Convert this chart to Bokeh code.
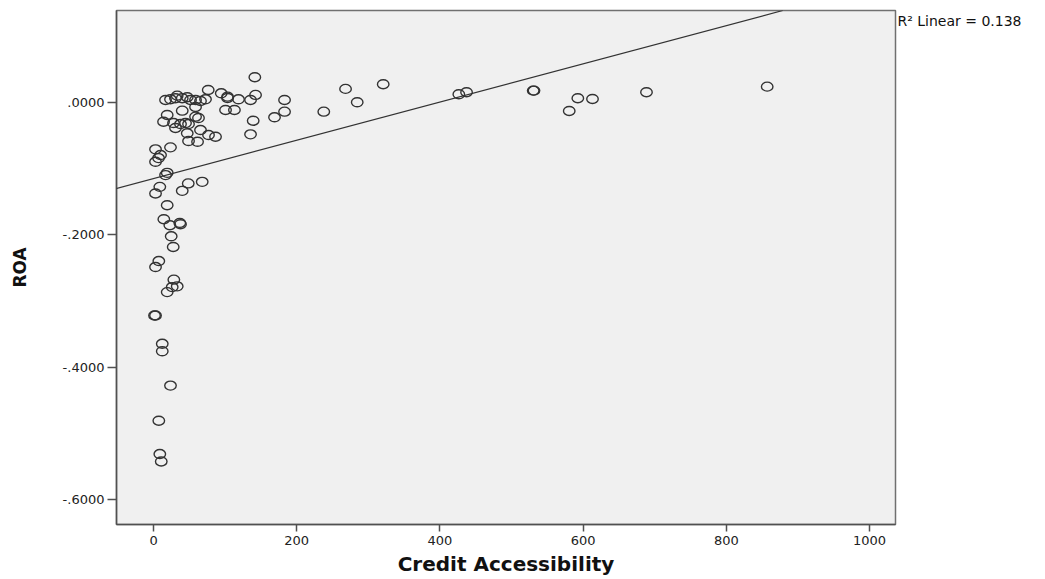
from bokeh.plotting import figure
from bokeh.models import Range1d, FixedTicker, CustomJSTickFormatter, Slope, LinearAxis
from bokeh.embed import file_html
from bokeh.resources import INLINE

# Credit Accessibility (x) and ROA (y)
credit = [141.5, 76.4, 94.6, 103.4, 118.7, 135.5, 142.5, 183.0, 183.0, 169.0,
          139.2, 135.5, 100.6, 113.0, 103.4, 16.8, 23.7, 30.7, 33.1, 40.1,
          47.1, 51.7, 58.7, 65.6, 72.6, 40.1, 58.7, 19.1, 14.0, 27.9,
          37.7, 44.7, 48.9, 58.7, 62.8, 30.7, 65.6, 47.1, 76.8, 86.6,
          48.9, 61.5, 2.8, 23.7, 9.8, 7.0, 2.8, 19.1, 16.8, 68.0,
          48.5, 40.1, 8.8, 2.8, 19.1, 14.4, 22.8, 36.7, 37.7, 24.7,
          27.5, 7.4, 2.8, 28.4, 33.1, 26.1, 19.1, 2.8, 1.4, 12.2,
          12.2, 23.7, 7.4, 8.8, 10.8, 268.2, 320.8, 284.5, 237.8, 426.4,
          437.2, 530.3, 531.4, 592.6, 613.1, 580.6, 688.5, 857.1]
roa = [0.0382, 0.0189, 0.0139, 0.0088, 0.0048, 0.0038, 0.0114, 0.0038, -0.0139, -0.0224,
       -0.0276, -0.0482, -0.0114, -0.0114, 0.0068, 0.0038, 0.0048, 0.0064, 0.0103, 0.0064,
       0.0079, 0.0038, 0.0038, 0.0023, 0.0048, -0.0124, -0.0068, -0.0189, -0.0291, -0.0311,
       -0.0326, -0.0311, -0.0326, -0.0215, -0.0235, -0.0386, -0.0417, -0.0467, -0.0492, -0.0518,
       -0.0583, -0.0594, -0.0709, -0.0679, -0.0795, -0.0841, -0.0897, -0.1064, -0.1098, -0.1200,
       -0.1224, -0.1336, -0.1276, -0.1376, -0.1553, -0.1765, -0.1856, -0.1821, -0.1841, -0.2023,
       -0.2185, -0.2397, -0.2488, -0.2679, -0.2780, -0.2791, -0.2867, -0.3220, -0.3220, -0.3648,
       -0.3761, -0.4280, -0.4811, -0.5315, -0.5427, 0.0205, 0.0276, 0.0003, -0.0139, 0.0124,
       0.0155, 0.0179, 0.0179, 0.0064, 0.0053, -0.0129, 0.0155, 0.0239]

# Linear fit line as drawn in the reference
fit_intercept = -0.115
fit_slope = 0.000289
r2_text = "R\u00b2 Linear = 0.138"
note_y = 0.123  # height (in ROA units) at which the R^2 note sits, right of the frame

x_ticks = [0, 200, 400, 600, 800, 1000]
y_ticks = [0.0, -0.2, -0.4, -0.6]

x_lo, x_hi = -51.7, 1036.3
y_lo, y_hi = -0.638, 0.139

p = figure(width=1045, height=579, output_backend="svg", toolbar_location=None,
           x_range=Range1d(x_lo, x_hi), y_range=Range1d(y_lo, y_hi),
           min_border_left=116, min_border_right=150, min_border_top=10, min_border_bottom=55)

p.background_fill_color = "#f0f0f0"
p.border_fill_color = "white"
p.outline_line_color = "#707070"
p.outline_line_width = 1.5
p.xgrid.visible = False
p.ygrid.visible = False

p.ellipse(x=credit, y=roa, width=11.5, height=9, width_units="screen", height_units="screen",
          fill_color=None, line_color="#333333", line_width=1.4)

p.add_layout(Slope(gradient=fit_slope, y_intercept=fit_intercept,
                   line_color="#333333", line_width=1.2))

# R^2 note: a bare right-hand axis with a single labelled tick
note_axis = LinearAxis(ticker=FixedTicker(ticks=[note_y]),
                       formatter=CustomJSTickFormatter(args=dict(label=r2_text), code="return label;"),
                       axis_line_color=None, major_tick_line_color=None, minor_tick_line_color=None,
                       major_tick_in=0, major_tick_out=0, major_label_standoff=2,
                       major_label_text_font="DejaVu Sans", major_label_text_font_size="14px",
                       major_label_text_color="#111111")
p.add_layout(note_axis, "right")

for ax in (p.xaxis[0], p.yaxis[0]):
    ax.axis_line_color = "#505050"
    ax.axis_line_width = 1.5
    ax.major_tick_line_color = "#505050"
    ax.major_tick_line_width = 1.5
    ax.major_tick_in = 0
    ax.minor_tick_line_color = None
    ax.major_label_text_font = "DejaVu Sans"
    ax.major_label_text_font_size = "13px"
    ax.major_label_text_color = "#222222"
    ax.axis_label_text_font = "DejaVu Sans"
    ax.axis_label_text_font_style = "bold"
    ax.axis_label_text_color = "#111111"

p.xaxis.ticker = FixedTicker(ticks=x_ticks)
p.xaxis.major_tick_out = 7
p.xaxis.major_label_standoff = 4
p.xaxis.axis_label = "Credit Accessibility"
p.xaxis.axis_label_text_font_size = "20px"
p.xaxis.axis_label_standoff = 4

y_axis = p.yaxis[0]
y_axis.ticker = FixedTicker(ticks=y_ticks)
y_axis.formatter = CustomJSTickFormatter(code="""
    if (Math.abs(tick) < 1e-9) return '.0000';
    const s = Math.abs(tick).toFixed(4).replace(/^0/, '');
    return (tick < 0 ? '-' : '') + s;
""")
y_axis.major_tick_out = 9
y_axis.major_label_standoff = 3
y_axis.axis_label = "ROA"
y_axis.axis_label_text_font_size = "17px"
y_axis.axis_label_standoff = 30

open("out.html", "w").write(file_html(p, INLINE))
